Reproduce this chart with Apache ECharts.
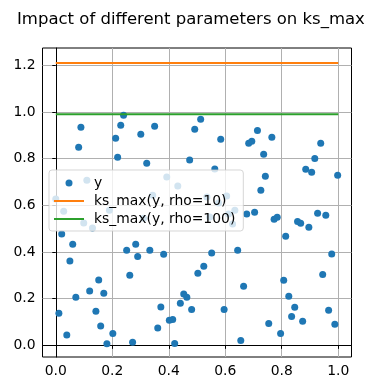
<!DOCTYPE html>
<html>
<head>
<meta charset="utf-8">
<script src="https://cdn.jsdelivr.net/npm/echarts@6/dist/echarts.min.js"></script>
<style>
  html, body { margin: 0; padding: 0; background: #fff; }
  #chart { width: 377px; height: 391px; }
</style>
</head>
<body>
<div id="chart"></div>
<script>
// scatter points
const xs = [
  0.000, 0.011, 0.021, 0.028, 0.039, 0.050, 0.060, 0.071, 0.081, 0.089,
  0.099, 0.110, 0.120, 0.130, 0.142, 0.152, 0.159, 0.170, 0.181, 0.190,
  0.202, 0.212, 0.219, 0.230, 0.240, 0.251, 0.262, 0.272, 0.283, 0.290,
  0.301, 0.311, 0.322, 0.333, 0.343, 0.350, 0.361, 0.372, 0.382, 0.393,
  0.402, 0.414, 0.421, 0.432, 0.441, 0.453, 0.464, 0.474, 0.481, 0.492,
  0.503, 0.513, 0.524, 0.535, 0.545, 0.552, 0.563, 0.576, 0.584, 0.596,
  0.605, 0.612, 0.626, 0.634, 0.644, 0.655, 0.665, 0.676, 0.683, 0.694,
  0.704, 0.714, 0.726, 0.736, 0.742, 0.754, 0.765, 0.773, 0.784, 0.796,
  0.807, 0.814, 0.825, 0.835, 0.846, 0.856, 0.867, 0.874, 0.885, 0.896,
  0.906, 0.917, 0.927, 0.938, 0.945, 0.956, 0.966, 0.977, 0.988, 0.998
]
const ys = [
  0.627, 0.137, 0.477, 0.574, 0.044, 0.361, 0.433, 0.206, 0.849, 0.934,
  0.524, 0.707, 0.233, 0.503, 0.146, 0.280, 0.083, 0.223, 0.007, 0.579,
  0.051, 0.887, 0.806, 0.943, 0.986, 0.407, 0.300, 0.013, 0.433, 0.381,
  0.904, 0.544, 0.780, 0.407, 0.643, 0.939, 0.074, 0.164, 0.390, 0.721,
  0.108, 0.111, 0.008, 0.683, 0.180, 0.220, 0.206, 0.794, 0.154, 0.926,
  0.309, 0.969, 0.339, 0.636, 0.550, 0.396, 0.756, 0.610, 0.883, 0.154,
  0.640, 0.563, 0.520, 0.579, 0.407, 0.021, 0.253, 0.563, 0.866, 0.874,
  0.570, 0.921, 0.664, 0.819, 0.724, 0.094, 0.892, 0.540, 0.549, 0.051,
  0.279, 0.467, 0.210, 0.124, 0.163, 0.531, 0.523, 0.103, 0.754, 0.506,
  0.742, 0.801, 0.566, 0.866, 0.304, 0.557, 0.150, 0.391, 0.090, 0.729
]

// the two ks_max levels
const lineX = [0, 1]
const rho10 = [1.21, 1.21]
const rho100 = [0.99, 0.99]

const xTicks = [0, 0.2, 0.4, 0.6, 0.8, 1.0]
const yTicks = [0, 0.2, 0.4, 0.6, 0.8, 1.0, 1.2]

const FONT = 'DejaVu Sans'

function pairs(a, b) {
  return a.map((v, i) => [v, b[i]])
}

function axisCommon(ticks) {
  return {
    type: 'value',
    axisLine: { show: true, lineStyle: { color: '#000', width: 1 } },
    axisTick: {
      show: true,
      length: 3.5,
      customValues: ticks,
      lineStyle: { color: '#000', width: 1 }
    },
    axisLabel: {
      customValues: ticks,
      margin: 7,
      color: '#000',
      fontSize: 13.9,
      fontFamily: FONT,
      formatter: (v) => v.toFixed(1)
    },
    splitLine: { show: true, lineStyle: { color: '#b0b0b0', width: 1 } }
  }
}

const chart = echarts.init(document.getElementById('chart'))

chart.setOption({
  animation: false,
  title: {
    text: 'Impact of different parameters on ks_max',
    left: 17,
    top: 11,
    padding: 0,
    textStyle: { fontSize: 16.5, fontWeight: 'normal', color: '#000', fontFamily: FONT }
  },
  grid: {
    left: 42.5,
    right: 25.5,
    top: 48,
    bottom: 34,
    show: true,
    borderColor: '#000',
    borderWidth: 1
  },
  legend: {
    orient: 'vertical',
    left: 49,
    top: 170,
    itemWidth: 30,
    itemHeight: 7,
    itemGap: 4,
    padding: [6, 8, 5, 4],
    backgroundColor: 'rgba(255,255,255,0.8)',
    borderColor: 'rgba(204,204,204,0.8)',
    borderWidth: 1,
    borderRadius: 3,
    textStyle: { fontSize: 13.9, color: '#000', fontFamily: FONT, padding: [0, 0, 0, 5] },
    data: [
      { name: 'y' },
      { name: 'ks_max(y, rho=10)', itemStyle: { opacity: 0 } },
      { name: 'ks_max(y, rho=100)', itemStyle: { opacity: 0 } }
    ]
  },
  xAxis: Object.assign(axisCommon(xTicks), { min: -0.047, max: 1.047 }),
  yAxis: Object.assign(axisCommon(yTicks), { min: -0.05, max: 1.274 }),
  series: [
    {
      name: 'y',
      type: 'scatter',
      symbolSize: 7,
      itemStyle: { color: '#1f77b4', opacity: 1 },
      data: pairs(xs, ys),
      z: 2
    },
    {
      name: 'ks_max(y, rho=10)',
      type: 'line',
      symbol: 'none',
      showSymbol: false,
      lineStyle: { color: '#ff7f0e', width: 2 },
      itemStyle: { color: '#ff7f0e' },
      data: pairs(lineX, rho10),
      z: 3
    },
    {
      name: 'ks_max(y, rho=100)',
      type: 'line',
      symbol: 'none',
      showSymbol: false,
      lineStyle: { color: '#2ca02c', width: 2 },
      itemStyle: { color: '#2ca02c' },
      data: pairs(lineX, rho100),
      z: 3
    }
  ]
})
</script>
</body>
</html>
